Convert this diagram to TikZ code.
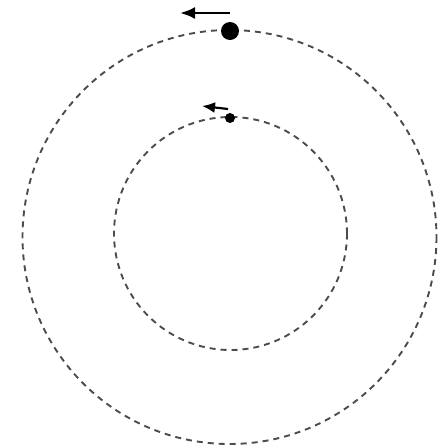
\documentclass[tikz,border=0pt]{standalone}
\usetikzlibrary{arrows.meta}
\begin{document}
\begin{tikzpicture}[x=1pt,y=-1pt,
  orbit/.style={draw=black!70, line width=1.9pt, dash pattern=on 6pt off 5pt},
  body/.style={circle, fill=black, inner sep=0pt},
  motion/.style={-{Latex[length=15pt,width=12pt]}, line width=2.6pt}]
\useasboundingbox (0,0) rectangle (442,448);
\coordinate (oc) at (229.5,237);
\coordinate (ic) at (230.5,233.5);
\draw[orbit] (oc) circle (207);
\draw[orbit] (ic) circle (116.5);
\node[body, minimum size=18pt] (big) at (230,31) {};
\node[body, minimum size=10pt] (small) at (230,118) {};
\coordinate (bt) at (230,13);
\coordinate (bh) at (180,13);
\draw[motion] (bt) -- (bh);
\coordinate (st) at (228,109);
\coordinate (sh) at (202,106);
\draw[motion, -{Latex[length=13pt,width=11pt]}, line width=2.2pt] (st) -- (sh);
\end{tikzpicture}
\end{document}
